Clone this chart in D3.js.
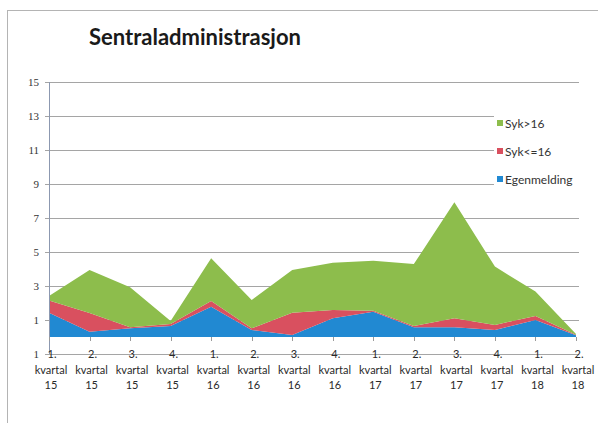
<!DOCTYPE html>
<html>
<head>
<meta charset="utf-8">
<script src="https://cdn.jsdelivr.net/npm/d3@7"></script>
<style>
  body { margin: 0; background: #fff; }
  svg { display: block; }
</style>
</head>
<body>
<svg id="chart" width="598" height="423"></svg>
<script>
// Chart data
const quarters = ['1.', '2.', '3.', '4.', '1.', '2.', '3.', '4.', '1.', '2.', '3.', '4.', '1.', '2.'];
const years = ['15', '15', '15', '15', '16', '16', '16', '16', '17', '17', '17', '17', '18', '18'];
const egenmelding = [1.43, 0.31, 0.51, 0.65, 1.78, 0.41, 0.12, 1.10, 1.49, 0.57, 0.57, 0.41, 1.00, 0.10];
const sykUnder16 = [0.71, 1.10, 0.06, 0.11, 0.34, 0.10, 1.31, 0.49, 0.06, 0.08, 0.53, 0.30, 0.24, 0.03];
const sykOver16 = [0.27, 2.53, 2.35, 0.18, 2.51, 1.67, 2.51, 2.78, 2.94, 3.64, 6.82, 3.43, 1.43, 0.05];
const yTicks = [-1, 1, 3, 5, 7, 9, 11, 13, 15];
const yTickLabels = ['1', '1', '3', '5', '7', '9', '11', '13', '15'];
const seriesNames = ['Egenmelding', 'Syk<=16', 'Syk>16'];
const colors = ['#2189d2', '#d9505f', '#8dbd4c'];

const svg = d3.select('#chart');

// frame
svg.append('rect')
    .attr('x', 7.5).attr('y', 10.5)
    .attr('width', 620).attr('height', 440)
    .attr('fill', 'none')
    .attr('stroke', '#b4b4b4');

// title
svg.append('text')
    .attr('x', 89).attr('y', 45)
    .attr('font-family', 'Lato, sans-serif')
    .attr('font-weight', 'bold')
    .attr('font-size', 22)
    .attr('fill', '#1a1a1a')
    .text('Sentraladministrasjon');

// table for stacking
const keys = ['egen', 'under', 'over'];
const rows = quarters.map((q, i) => ({
    id: i,
    egen: egenmelding[i],
    under: sykUnder16[i],
    over: sykOver16[i]
}));
const stacked = d3.stack().keys(keys)(rows);

const x = d3.scalePoint()
    .domain(d3.range(quarters.length))
    .range([49, 576]);

const y = d3.scaleLinear()
    .domain([-1, 15])
    .range([354, 82]);

// gridlines
svg.append('g')
    .selectAll('line')
    .data(yTicks)
    .join('line')
    .attr('x1', 45).attr('x2', 579)
    .attr('y1', d => y(d) + 0.5).attr('y2', d => y(d) + 0.5)
    .attr('stroke', '#a5a5a5')
    .attr('stroke-width', 1);

// y labels
svg.append('g')
    .selectAll('text')
    .data(yTicks)
    .join('text')
    .attr('x', 39)
    .attr('y', d => y(d) + 4)
    .attr('text-anchor', 'end')
    .attr('font-family', '"Liberation Serif", serif')
    .attr('font-size', 11)
    .attr('fill', '#333')
    .text((d, i) => yTickLabels[i]);

// areas
const area = d3.area()
    .x(d => x(d.data.id))
    .y0(d => y(d[0]))
    .y1(d => y(d[1]));

svg.append('g')
    .selectAll('path')
    .data(stacked)
    .join('path')
    .attr('d', area)
    .attr('fill', (d, i) => colors[i]);

// vertical axis line
svg.append('line')
    .attr('x1', 49.5).attr('x2', 49.5)
    .attr('y1', 82).attr('y2', 354)
    .attr('stroke', '#8c98b0');

// category ticks at baseline
svg.append('g')
    .selectAll('line')
    .data(d3.range(quarters.length))
    .join('line')
    .attr('x1', d => Math.round(x(d)) + 0.5).attr('x2', d => Math.round(x(d)) + 0.5)
    .attr('y1', y(0)).attr('y2', y(0) + 4)
    .attr('stroke', '#9a9a9a');

// category labels
const xl = svg.append('g')
    .attr('font-family', 'Lato, sans-serif')
    .attr('font-size', 11)
    .attr('fill', '#2a2a2a')
    .attr('text-anchor', 'middle');

quarters.forEach((q, i) => {
    const t = xl.append('text').attr('x', x(i) + 2);
    t.append('tspan').attr('x', x(i) + 3).attr('y', 358).text(q);
    t.append('tspan').attr('x', x(i) + 2).attr('y', 374).text('kvartal');
    t.append('tspan').attr('x', x(i) + 2).attr('y', 389).text(years[i]);
});

// legend
const legendItems = [2, 1, 0];
const lg = svg.append('g');
legendItems.forEach((s, j) => {
    const ly = 125 + j * 28;
    lg.append('rect')
        .attr('x', 494).attr('y', ly - 10)
        .attr('width', 88).attr('height', 16)
        .attr('fill', '#fff');
    lg.append('rect')
        .attr('x', 497).attr('y', ly - 5)
        .attr('width', 6).attr('height', 6)
        .attr('fill', colors[s]);
    lg.append('text')
        .attr('x', 505).attr('y', ly + 3)
        .attr('font-family', 'Lato, sans-serif')
        .attr('font-size', 12)
        .attr('fill', '#333')
        .text(seriesNames[s]);
});
</script>
</body>
</html>
